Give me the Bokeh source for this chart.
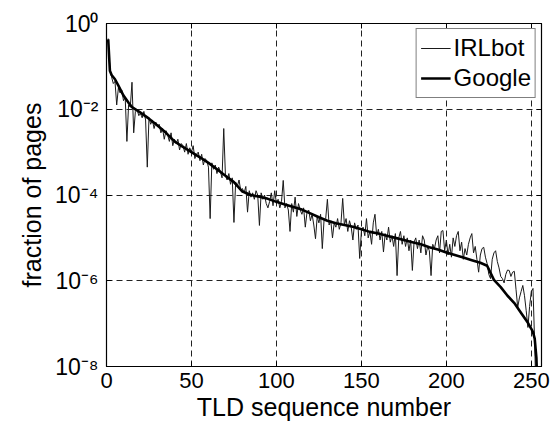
from bokeh.plotting import figure
from bokeh.models import (FixedTicker, CustomJSTickFormatter, LinearAxis, LogAxis,
                          Legend, LegendItem, Range1d)
from bokeh.embed import file_html
from bokeh.resources import INLINE

# ---- data (log10 of fraction of pages) ----
irlbot_log = [
    -0.35, -1.05, -1.25, -1.40, -1.35, -1.90, -1.50, -1.62, -1.55, -1.80,   # 1-10
    -1.72, -2.75, -1.90, -1.95, -1.37, -2.55, -2.05, -2.00, -2.15, -2.10,   # 11-20
    -2.20, -2.05, -2.25, -3.35, -2.20, -2.35, -2.25, -2.45, -2.30, -2.40,   # 21-30
    -2.35, -2.55, -2.45, -2.70, -2.50, -2.60, -2.75, -2.55, -2.85, -2.70,   # 31-40
    -2.80, -2.70, -2.95, -2.80, -2.85, -3.00, -2.80, -3.05, -2.90, -3.00,   # 41-50
    -2.85, -3.15, -3.05, -3.00, -3.20, -3.05, -3.30, -3.15, -3.20, -3.35,   # 51-60
    -4.55, -3.25, -3.40, -3.30, -3.50, -3.35, -3.45, -3.60, -2.45, -3.55,   # 61-70
    -3.65, -3.50, -3.75, -3.60, -4.64, -3.70, -3.80, -3.65, -3.90, -3.85,   # 71-80
    -3.95, -3.80, -4.40, -3.90, -4.05, -3.95, -4.10, -3.90, -4.00, -4.71,   # 81-90
    -3.95, -4.10, -4.00, -4.20, -4.30, -4.15, -3.95, -4.25, -3.90, -4.20,   # 91-100
    -4.10, -4.30, -4.15, -3.66, -4.30, -4.20, -4.35, -4.85, -4.20, -4.40,   # 101-110
    -4.05, -4.50, -4.20, -4.35, -4.45, -4.30, -4.75, -4.40, -4.35, -4.60,   # 111-120
    -4.45, -4.70, -5.02, -4.50, -4.65, -4.45, -5.25, -4.60, -4.55, -4.10,   # 121-130
    -4.70, -4.60, -5.00, -4.65, -4.75, -4.55, -4.80, -4.65, -4.08, -4.70,   # 131-140
    -4.55, -4.85, -4.60, -4.75, -5.05, -4.65, -4.80, -4.70, -5.48, -4.85,   # 141-150
    -4.75, -4.95, -4.55, -5.00, -4.85, -5.15, -4.65, -4.45, -4.95, -4.80,   # 151-160
    -5.05, -4.85, -5.33, -4.90, -5.05, -4.75, -5.10, -4.95, -5.20, -4.90,   # 161-170
    -5.88, -5.00, -4.85, -5.15, -4.95, -5.20, -5.00, -5.30, -5.05, -5.76,   # 171-180
    -5.10, -5.00, -5.25, -5.05, -5.35, -4.95, -5.05, -5.40, -5.20, -5.30,   # 181-190
    -5.88, -5.15, -5.25, -5.05, -4.95, -5.35, -4.85, -4.83, -5.30, -5.05,   # 191-200
    -5.40, -5.15, -5.45, -5.00, -5.20, -4.95, -4.85, -5.30, -5.10, -5.50,   # 201-210
    -5.25, -5.40, -5.15, -5.00, -4.90, -5.35, -5.20, -5.50, -5.80, -5.40,   # 211-220
    -5.25, -5.22, -5.45, -5.60, -5.85, -5.95, -5.50, -5.35, -5.30, -5.55,   # 221-230
    -5.70, -5.90, -5.95, -6.05, -5.85, -5.75, -5.76, -5.90, -5.80, -5.78,   # 231-240
    -6.20, -6.62, -6.40, -6.25, -6.11, -6.35, -6.70, -7.09, -6.60, -6.25,   # 241-250
    -6.18, -7.50, -9.00, -9.00,                                             # 251-254
]
irlbot_x = list(range(1, len(irlbot_log) + 1))

google_x = [1, 2, 3, 5, 7, 10, 13, 15, 20, 25, 30, 35, 40, 45, 50, 55, 60, 65, 70,
            75, 80, 85, 90, 95, 100, 105, 110, 115, 120, 125, 130, 135, 140, 145,
            150, 155, 160, 165, 170, 175, 180, 185, 190, 195, 200, 205, 210, 215,
            220, 224, 228, 232, 236, 240, 244, 248, 250, 251, 252, 253, 254]
google_log = [-0.37, -1.10, -1.20, -1.30, -1.45, -1.68, -1.85, -1.95, -2.08, -2.22,
              -2.38, -2.55, -2.75, -2.88, -3.00, -3.12, -3.25, -3.40, -3.55, -3.70,
              -3.92, -4.00, -4.04, -4.09, -4.16, -4.22, -4.28, -4.34, -4.43, -4.52,
              -4.60, -4.66, -4.70, -4.74, -4.80, -4.86, -4.90, -4.95, -5.00, -5.05,
              -5.10, -5.15, -5.22, -5.27, -5.34, -5.40, -5.46, -5.52, -5.58, -5.65,
              -5.98, -6.15, -6.35, -6.52, -6.75, -6.98, -7.12, -7.20, -7.35, -7.80,
              -9.00]

x_ticks = [0, 50, 100, 150, 200, 250]
y_ticks = [1e-8, 1e-6, 1e-4, 1e-2, 1e0]
x_label = "TLD sequence number"
y_label = "fraction of pages"
series_names = ["IRLbot", "Google"]

irlbot_y = [10 ** v for v in irlbot_log]
google_y = [10 ** v for v in google_log]

FONT = "Liberation Sans"

p = figure(width=551, height=426, x_range=Range1d(0, 256), y_range=Range1d(1e-8, 1),
           y_axis_type="log", output_backend="svg", toolbar_location=None,
           min_border_left=106, min_border_right=10, min_border_top=23,
           min_border_bottom=60)
p.outline_line_color = "black"
p.outline_line_width = 1.2

sup_code = """
const e = Math.round(Math.log10(tick));
const sup = {"-":"\u207b","0":"\u2070","1":"\u00b9","2":"\u00b2","3":"\u00b3","4":"\u2074",
             "5":"\u2075","6":"\u2076","7":"\u2077","8":"\u2078","9":"\u2079"};
let s = "";
for (const c of String(e)) s += sup[c];
return "10" + s;
"""

# bottom / left axes
xa = p.xaxis[0]
xa.ticker = FixedTicker(ticks=x_ticks)
ya = p.yaxis[0]
ya.ticker = FixedTicker(ticks=y_ticks)
ya.formatter = CustomJSTickFormatter(code=sup_code)
for ax in (xa, ya):
    ax.major_tick_in = 5
    ax.major_tick_out = 0
    ax.minor_tick_line_color = None
    ax.axis_line_color = "black"
    ax.major_tick_line_color = "black"
    ax.major_label_text_font = FONT
    ax.major_label_text_font_size = "22px"
    ax.major_label_text_color = "black"
    ax.axis_label_text_font = FONT
    ax.axis_label_text_font_size = "25px"
    ax.axis_label_text_font_style = "normal"
    ax.axis_label_text_color = "black"
ya.major_label_text_font_size = "23px"
xa.axis_label = x_label
ya.axis_label = y_label
xa.major_label_standoff = 6
xa.axis_label_standoff = 2
ya.major_label_standoff = 8
ya.axis_label_standoff = 6

# top / right axes with inward ticks only
top = LinearAxis(ticker=FixedTicker(ticks=x_ticks),
                 formatter=CustomJSTickFormatter(code="return '';"))
right = LogAxis(ticker=FixedTicker(ticks=y_ticks),
                formatter=CustomJSTickFormatter(code="return '';"))
for ax in (top, right):
    ax.major_tick_in = 5
    ax.major_tick_out = 0
    ax.minor_tick_line_color = None
    ax.major_label_standoff = 0
    ax.major_label_text_font_size = "1px"
    ax.axis_line_color = "black"
p.add_layout(top, "above")
p.add_layout(right, "right")

# grids
p.xgrid.ticker = FixedTicker(ticks=x_ticks)
p.ygrid.ticker = FixedTicker(ticks=y_ticks)
for g in (p.xgrid[0], p.ygrid[0]):
    g.grid_line_color = "#222222"
    g.grid_line_dash = "6 4"
    g.grid_line_width = 1
    g.minor_grid_line_color = None

r1 = p.line(irlbot_x, irlbot_y, line_color="#1a1a1a", line_width=1)
r2 = p.line(google_x, google_y, line_color="black", line_width=2.6)

legend = Legend(items=[LegendItem(label=series_names[0], renderers=[r1]),
                       LegendItem(label=series_names[1], renderers=[r2])],
                location="top_right")
legend.margin = 5
legend.padding = 4
legend.spacing = 0
legend.label_height = 30
legend.glyph_width = 30
legend.glyph_height = 30
legend.label_standoff = 3
legend.label_text_font = FONT
legend.label_text_font_size = "24px"
legend.label_text_color = "black"
legend.border_line_color = "black"
legend.border_line_width = 1
legend.background_fill_alpha = 1
p.add_layout(legend)

open("out.html", "w").write(file_html(p, INLINE))
